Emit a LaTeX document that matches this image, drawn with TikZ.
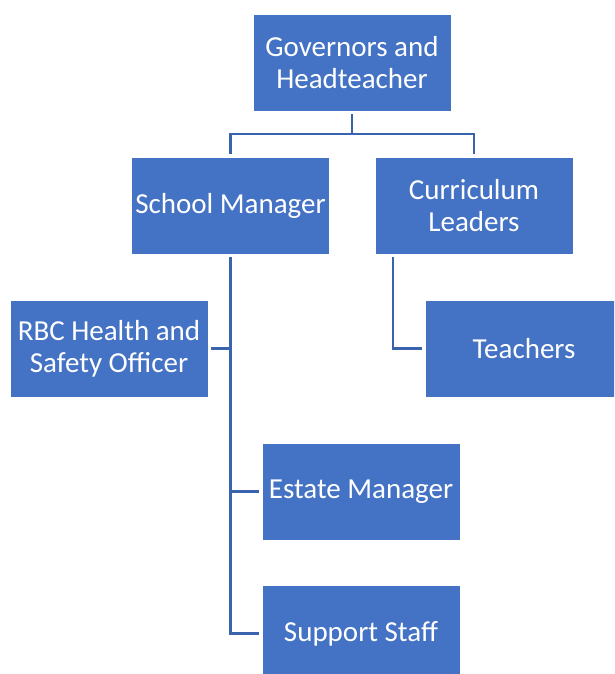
\documentclass[tikz,border=0pt]{standalone}
\usepackage{fontspec}
\setmainfont{Carlito}
\usepackage{tikz}

\definecolor{boxblue}{HTML}{4472C4}
\definecolor{linkblue}{HTML}{3A63AE}

\begin{document}
\begin{tikzpicture}[x=1pt, y=-1pt,
		role/.style = {draw=white, line width=0.6pt, fill=boxblue, text=white,
			minimum width=198pt, minimum height=97pt, inner sep=0pt, align=center,
			font=\fontsize{29}{32}\selectfont},
		link/.style = {draw=linkblue, line width=2.2pt, shorten <=3pt, shorten >=3pt}]
		\useasboundingbox (0,0) rectangle (614,674);
		\clip (0,0) rectangle (614,674);

		% top level
		\node [role] (gov) at (352,62.5) {Governors and\\Headteacher};

		% second level
		\node [role] (sm) at (230.5,205.5) {School Manager};
		\node [role] (cl) at (474,205.5) {Curriculum\\Leaders};

		% below the school manager
		\node [role] (rbc) at (109,348.5) {RBC Health and\\Safety Officer};
		\node [role] (est) at (361,491.5) {Estate Manager};
		\node [role] (sup) at (361,633.5) {Support Staff};

		% below the curriculum leaders
		\node [role] (tea) at (524,348.5) {Teachers};

		\coordinate (bus) at (352,134);
		\draw [link, shorten >=0pt] (gov) -- (bus);
		\draw [link, shorten <=0pt] (bus) -| (sm);
		\draw [link, shorten <=0pt] (bus) -| (cl);

		\draw [link] (sm) |- (rbc);
		\draw [link] (sm) |- (est);
		\draw [link] (sm) |- (sup);

		\draw [link] ([xshift=-81pt]cl.south) |- (tea);
	\end{tikzpicture}
\end{document}
